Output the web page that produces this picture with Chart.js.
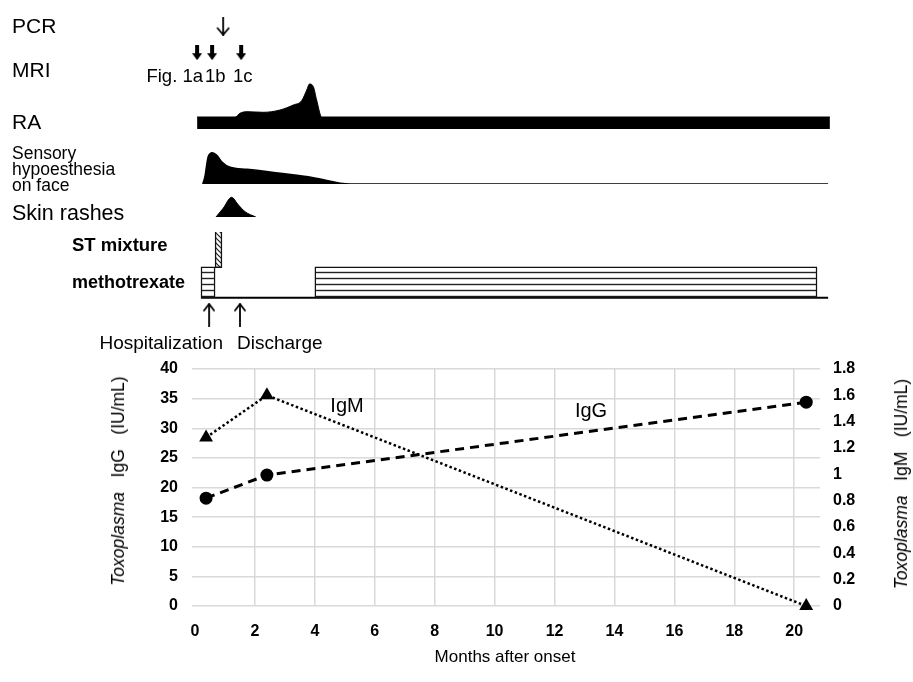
<!DOCTYPE html>
<html><head><meta charset="utf-8">
<script src="https://cdn.jsdelivr.net/npm/chart.js@4/dist/chart.umd.min.js"></script>
<style>
html,body{margin:0;padding:0;background:#fff;}
#page{position:relative;width:913px;height:682px;overflow:hidden;font-family:'Liberation Sans',Arial,sans-serif;color:#000;background:#fff;}
#page canvas{position:absolute;left:0;}
.t{position:absolute;white-space:nowrap;}
</style></head><body>
<div id="page">
<canvas id="main" width="913" height="682" style="top:0"></canvas>
<canvas id="arrowsTop" width="913" height="63" style="top:8px"></canvas>
<canvas id="ra" width="913" height="50" style="top:79px"></canvas>
<canvas id="sensory" width="913" height="40" style="top:144px"></canvas>
<canvas id="rash" width="913" height="25" style="top:192px"></canvas>
<canvas id="drugs" width="913" height="67" style="top:232px"></canvas>
<canvas id="events" width="913" height="29" style="top:300px"></canvas>
</div>
<script>
// ---------------- DATA ----------------
// Toxoplasma serology (months after onset)
const sampleMonths = [0.37, 2.4, 20.4];
const toxoIgG = [18.2, 22.1, 34.4];      // IU/mL (left axis)
const toxoIgM = [1.28, 1.6, 0];          // IU/mL (right axis)
const monthTicks = [0, 2, 4, 6, 8, 10, 12, 14, 16, 18, 20];
const igGTicks = [0, 5, 10, 15, 20, 25, 30, 35, 40];
const igMTicks = [0, 0.2, 0.4, 0.6, 0.8, 1, 1.2, 1.4, 1.6, 1.8];

// Clinical course (relative intensity)
const raMonths   = [0.07, 1.34, 1.5, 1.73, 2.28, 2.84, 3.28, 3.56, 3.73, 3.82, 3.95, 4.06, 4.23, 21.19];
const raActivity = [1.2, 1.2, 1.57, 1.73, 1.67, 1.9, 2.4, 2.83, 3.9, 4.5, 4.23, 2.9, 1.2, 1.2];
const sensoryMonths = [0.26, 0.33, 0.44, 0.58, 0.72, 0.89, 1.17, 1.73, 2.84, 3.95, 5.17, 21.13];
const sensoryLevel  = [0, 0.73, 2.73, 3.13, 2.9, 2.23, 1.67, 1.47, 1.07, 0.63, 0, 0];
const rashMonths = [0.7, 0.94, 1.22, 1.45, 1.67, 2.03];
const rashLevel  = [0, 0.87, 1.97, 1.2, 0.53, 0];

// Treatments (start, end in months)
const stMixtureCourse = [0.67, 0.9];
const methotrexateCourses = [[0.2, 0.67], [4.0, 20.76]];
const methotrexateFollowUp = [0.2, 21.13];

// Events
const pcrMonths = [0.94];
const mriMonths = [0.07, 0.57, 1.54];
const admissionMonths = [0.47, 1.5];

// ---------------- HELPERS ----------------
Chart.defaults.font.family = "'Liberation Sans', Arial, sans-serif";
Chart.defaults.color = '#000';
const W = 913;
const TOP_X = {type:'linear', min:-0.1, max:21.4, display:false};
const TOP_PAD = {left:192, right:76.8, top:0, bottom:0};
const baseOpts = () => ({
  responsive:false, animation:false, events:[],
  layout:{padding:TOP_PAD},
  plugins:{legend:{display:false}, tooltip:{enabled:false}}
});
function makeCanvas(w, h, draw){
  const c = document.createElement('canvas'); c.width = w; c.height = h;
  draw(c.getContext('2d')); return c;
}
const pcrArrow = makeCanvas(14, 19, g => {
  g.strokeStyle = '#000'; g.lineWidth = 1.8; g.lineCap = 'round';
  g.beginPath(); g.moveTo(7, 0.5); g.lineTo(7, 18); g.stroke();
  g.beginPath(); g.moveTo(1.5, 11.5); g.lineTo(7, 18); g.lineTo(12.5, 11.5); g.stroke();
});
const mriArrow = makeCanvas(10, 15, g => {
  g.fillStyle = '#000';
  g.fillRect(3, 0, 4, 9);
  g.beginPath(); g.moveTo(0, 8); g.lineTo(10, 8); g.lineTo(5, 15); g.closePath(); g.fill();
});
const upArrow = makeCanvas(12, 24, g => {
  g.strokeStyle = '#000'; g.lineWidth = 1.8; g.lineCap = 'round';
  g.beginPath(); g.moveTo(6, 1.5); g.lineTo(6, 23.5); g.stroke();
  g.beginPath(); g.moveTo(1, 8); g.lineTo(6, 1.5); g.lineTo(11, 8); g.stroke();
});
const tileH = makeCanvas(8, 6, g => {
  g.fillStyle = '#fff'; g.fillRect(0, 0, 8, 6);
  g.strokeStyle = '#222'; g.lineWidth = 1.4;
  g.beginPath(); g.moveTo(0, 4.5); g.lineTo(8, 4.5); g.stroke();
});
const tileD = makeCanvas(5, 5, g => {
  g.fillStyle = '#fff'; g.fillRect(0, 0, 5, 5);
  g.strokeStyle = '#222'; g.lineWidth = 1.2;
  g.beginPath(); g.moveTo(-1, -1); g.lineTo(6, 6); g.moveTo(-1, 4); g.lineTo(1, 6); g.moveTo(4, -1); g.lineTo(6, 1); g.stroke();
});
const tmpCtx = document.createElement('canvas').getContext('2d');
const hatchH = tmpCtx.createPattern(tileH, 'repeat');
const hatchD = tmpCtx.createPattern(tileD, 'repeat');

// ---------------- MAIN SEROLOGY CHART ----------------
const gridGray = '#d9d9d9';
const tickFont = {size:16, weight:'bold'};
new Chart(document.getElementById('main'), {
  type:'line',
  data:{datasets:[
    {label:'IgG', yAxisID:'y', data: sampleMonths.map((m,i)=>({x:m, y:toxoIgG[i]})),
     borderColor:'#000', backgroundColor:'#000', borderWidth:3, borderDash:[9,6],
     pointStyle:'circle', pointRadius:6.5, pointBackgroundColor:'#000', pointBorderColor:'#000', pointBorderWidth:0, tension:0},
    {label:'IgM', yAxisID:'y2', data: sampleMonths.map((m,i)=>({x:m, y:toxoIgM[i]})),
     borderColor:'#000', backgroundColor:'#000', borderWidth:2.5, borderDash:[2.5,2.5],
     pointStyle:'triangle', pointRadius:8, pointBackgroundColor:'#000', pointBorderColor:'#000', pointBorderWidth:0, tension:0, clip:false}
  ]},
  options:{
    responsive:false, animation:false, events:[],
    layout:{padding:{top:369, left:0, right:0, bottom:0}},
    plugins:{legend:{display:false}, tooltip:{enabled:false}},
    scales:{
      x:{type:'linear', min:-0.1, max:20.86,
         afterBuildTicks: s => { s.ticks = monthTicks.map(v => ({value:v})); },
         afterFit: s => { s.height = 76; },
         grid:{color: c => (c.tick && c.tick.value === 0) ? 'rgba(0,0,0,0)' : gridGray, lineWidth:1.5, drawTicks:false},
         border:{display:false},
         ticks:{font:tickFont, color:'#000', padding:16, maxRotation:0, autoSkip:false}},
      y:{position:'left', min:0, max:40,
         afterBuildTicks: s => { s.ticks = igGTicks.map(v => ({value:v})); },
         afterFit: s => { s.width = 192; },
         grid:{color:gridGray, lineWidth:1.5, drawTicks:false},
         border:{display:false},
         ticks:{font:tickFont, color:'#000', padding:14}},
      y2:{position:'right', min:0, max:1.8,
         afterBuildTicks: s => { s.ticks = igMTicks.map(v => ({value:v})); },
         afterFit: s => { s.width = 93; },
         grid:{display:false, drawTicks:false},
         border:{display:false},
         ticks:{font:tickFont, color:'#000', padding:13, callback: v => String(+Number(v).toFixed(1))}}
    }
  }
});

// ---------------- TIMELINE ROWS ----------------
// PCR / MRI arrows
new Chart(document.getElementById('arrowsTop'), {
  type:'scatter',
  data:{datasets:[
    {label:'PCR', data: pcrMonths.map(m => ({x:m, y:'PCR'})), pointStyle:pcrArrow, clip:false},
    {label:'MRI', data: mriMonths.map(m => ({x:m, y:'MRI'})), pointStyle:mriArrow, clip:false}
  ]},
  options:Object.assign(baseOpts(), {scales:{x:TOP_X, y:{type:'category', labels:['PCR','MRI'], offset:true, display:false}}})
});

// RA
new Chart(document.getElementById('ra'), {
  type:'line',
  data:{datasets:[{label:'RA', data: raMonths.map((m,i)=>({x:m, y:raActivity[i]})),
    borderColor:'#000', backgroundColor:'#000', borderWidth:1, fill:'origin', pointRadius:0,
    cubicInterpolationMode:'monotone', clip:false}]},
  options:Object.assign(baseOpts(), {scales:{x:TOP_X, y:{type:'linear', min:0, max:5, display:false}}})
});

// Sensory hypoesthesia
new Chart(document.getElementById('sensory'), {
  type:'line',
  data:{datasets:[{label:'Sensory hypoesthesia on face', data: sensoryMonths.map((m,i)=>({x:m, y:sensoryLevel[i]})),
    borderColor:'#000', backgroundColor:'#000', borderWidth:1.5, fill:'origin', pointRadius:0,
    cubicInterpolationMode:'monotone', clip:false}]},
  options:Object.assign(baseOpts(), {scales:{x:TOP_X, y:{type:'linear', min:0, max:4, display:false}}})
});

// Skin rashes
new Chart(document.getElementById('rash'), {
  type:'line',
  data:{datasets:[{label:'Skin rashes', data: rashMonths.map((m,i)=>({x:m, y:rashLevel[i]})),
    borderColor:'#000', backgroundColor:'#000', borderWidth:1, fill:'origin', pointRadius:0,
    cubicInterpolationMode:'monotone', clip:false}]},
  options:Object.assign(baseOpts(), {scales:{x:TOP_X, y:{type:'linear', min:0, max:2.5, display:false}}})
});

// Drugs
const followUpLine = {
  id:'followUpLine',
  beforeDatasetsDraw(chart){
    const x = chart.scales.x, a = chart.chartArea, g = chart.ctx;
    g.save(); g.strokeStyle = '#000'; g.lineWidth = 2;
    g.beginPath();
    g.moveTo(x.getPixelForValue(methotrexateFollowUp[0]), a.bottom - 1.2);
    g.lineTo(x.getPixelForValue(methotrexateFollowUp[1]), a.bottom - 1.2);
    g.stroke(); g.restore();
  }
};
const drugLabels = ['ST mixture', 'methotrexate'];
new Chart(document.getElementById('drugs'), {
  type:'bar',
  data:{labels:drugLabels, datasets:[
    {label:'ST mixture', data:[stMixtureCourse, null], backgroundColor:hatchD, borderColor:'#111',
     borderWidth:1.5, borderSkipped:false, barThickness:38, grouped:false},
    ...methotrexateCourses.map((c,i) => ({label:'methotrexate '+(i+1), data:[null, c], backgroundColor:hatchH,
     borderColor:'#111', borderWidth:1.5, borderSkipped:false, barThickness:31, grouped:false}))
  ]},
  options:Object.assign(baseOpts(), {indexAxis:'y',
    scales:{x:TOP_X, y:{type:'category', offset:true, display:false}}}),
  plugins:[followUpLine]
});

// Hospitalization / discharge arrows
new Chart(document.getElementById('events'), {
  type:'scatter',
  data:{datasets:[{label:'Admission', data: admissionMonths.map(m => ({x:m, y:'event'})), pointStyle:upArrow, clip:false}]},
  options:Object.assign(baseOpts(), {scales:{x:TOP_X, y:{type:'category', labels:['event'], offset:true, display:false}}})
});

// ---------------- TEXT ----------------
const page = document.getElementById('page');
function addText(html, x, cy, size, o = {}){
  const d = document.createElement('div'); d.className = 't';
  const lh = o.lh || Math.round(size * 1.2);
  d.innerHTML = html;
  d.style.fontSize = size + 'px'; d.style.lineHeight = lh + 'px';
  if (o.bold) d.style.fontWeight = 'bold';
  d.style.top = (cy - lh / 2) + 'px';
  if (o.anchor === 'right') d.style.right = (W - x) + 'px';
  else if (o.anchor === 'center') { d.style.left = x + 'px'; d.style.transform = 'translateX(-50%)'; }
  else d.style.left = x + 'px';
  page.appendChild(d); return d;
}
addText('PCR', 12, 25, 21);
addText('MRI', 12, 69, 21);
addText('Fig. 1a', 203, 76, 18.5, {anchor:'right'});
addText('1b', 205, 76, 18.5);
addText('1c', 233, 76, 18.5);
addText('RA', 12, 121, 21);
addText('Sensory<br>hypoesthesia<br>on face', 12, 154, 17.5, {lh:15.8});
addText('Skin rashes', 12, 213, 21.5);
addText('ST mixture', 72, 245, 18.5, {bold:true});
addText('methotrexate', 72, 282, 18, {bold:true});
addText('Hospitalization', 223, 342, 19, {anchor:'right'});
addText('Discharge', 237, 342, 19);
addText('IgM', 347, 405, 20, {anchor:'center'});
addText('IgG', 591, 410, 20, {anchor:'center'});
addText('Months after onset', 505, 657, 17, {anchor:'center'});
function addVTitle(html, cx, cy){
  const d = document.createElement('div'); d.className = 't';
  d.innerHTML = html; d.style.fontSize = '17.5px'; d.style.lineHeight = '20px';
  d.style.left = cx + 'px'; d.style.top = cy + 'px';
  d.style.transform = 'translate(-50%,-50%) rotate(-90deg)';
  page.appendChild(d);
}
addVTitle('<i>Toxoplasma</i>&nbsp;&nbsp;&nbsp;IgG&nbsp;&nbsp;&nbsp;(IU/mL)', 118, 481);
addVTitle('<i>Toxoplasma</i>&nbsp;&nbsp;&nbsp;IgM&nbsp;&nbsp;&nbsp;(IU/mL)', 901, 484);
</script>
</body></html>
